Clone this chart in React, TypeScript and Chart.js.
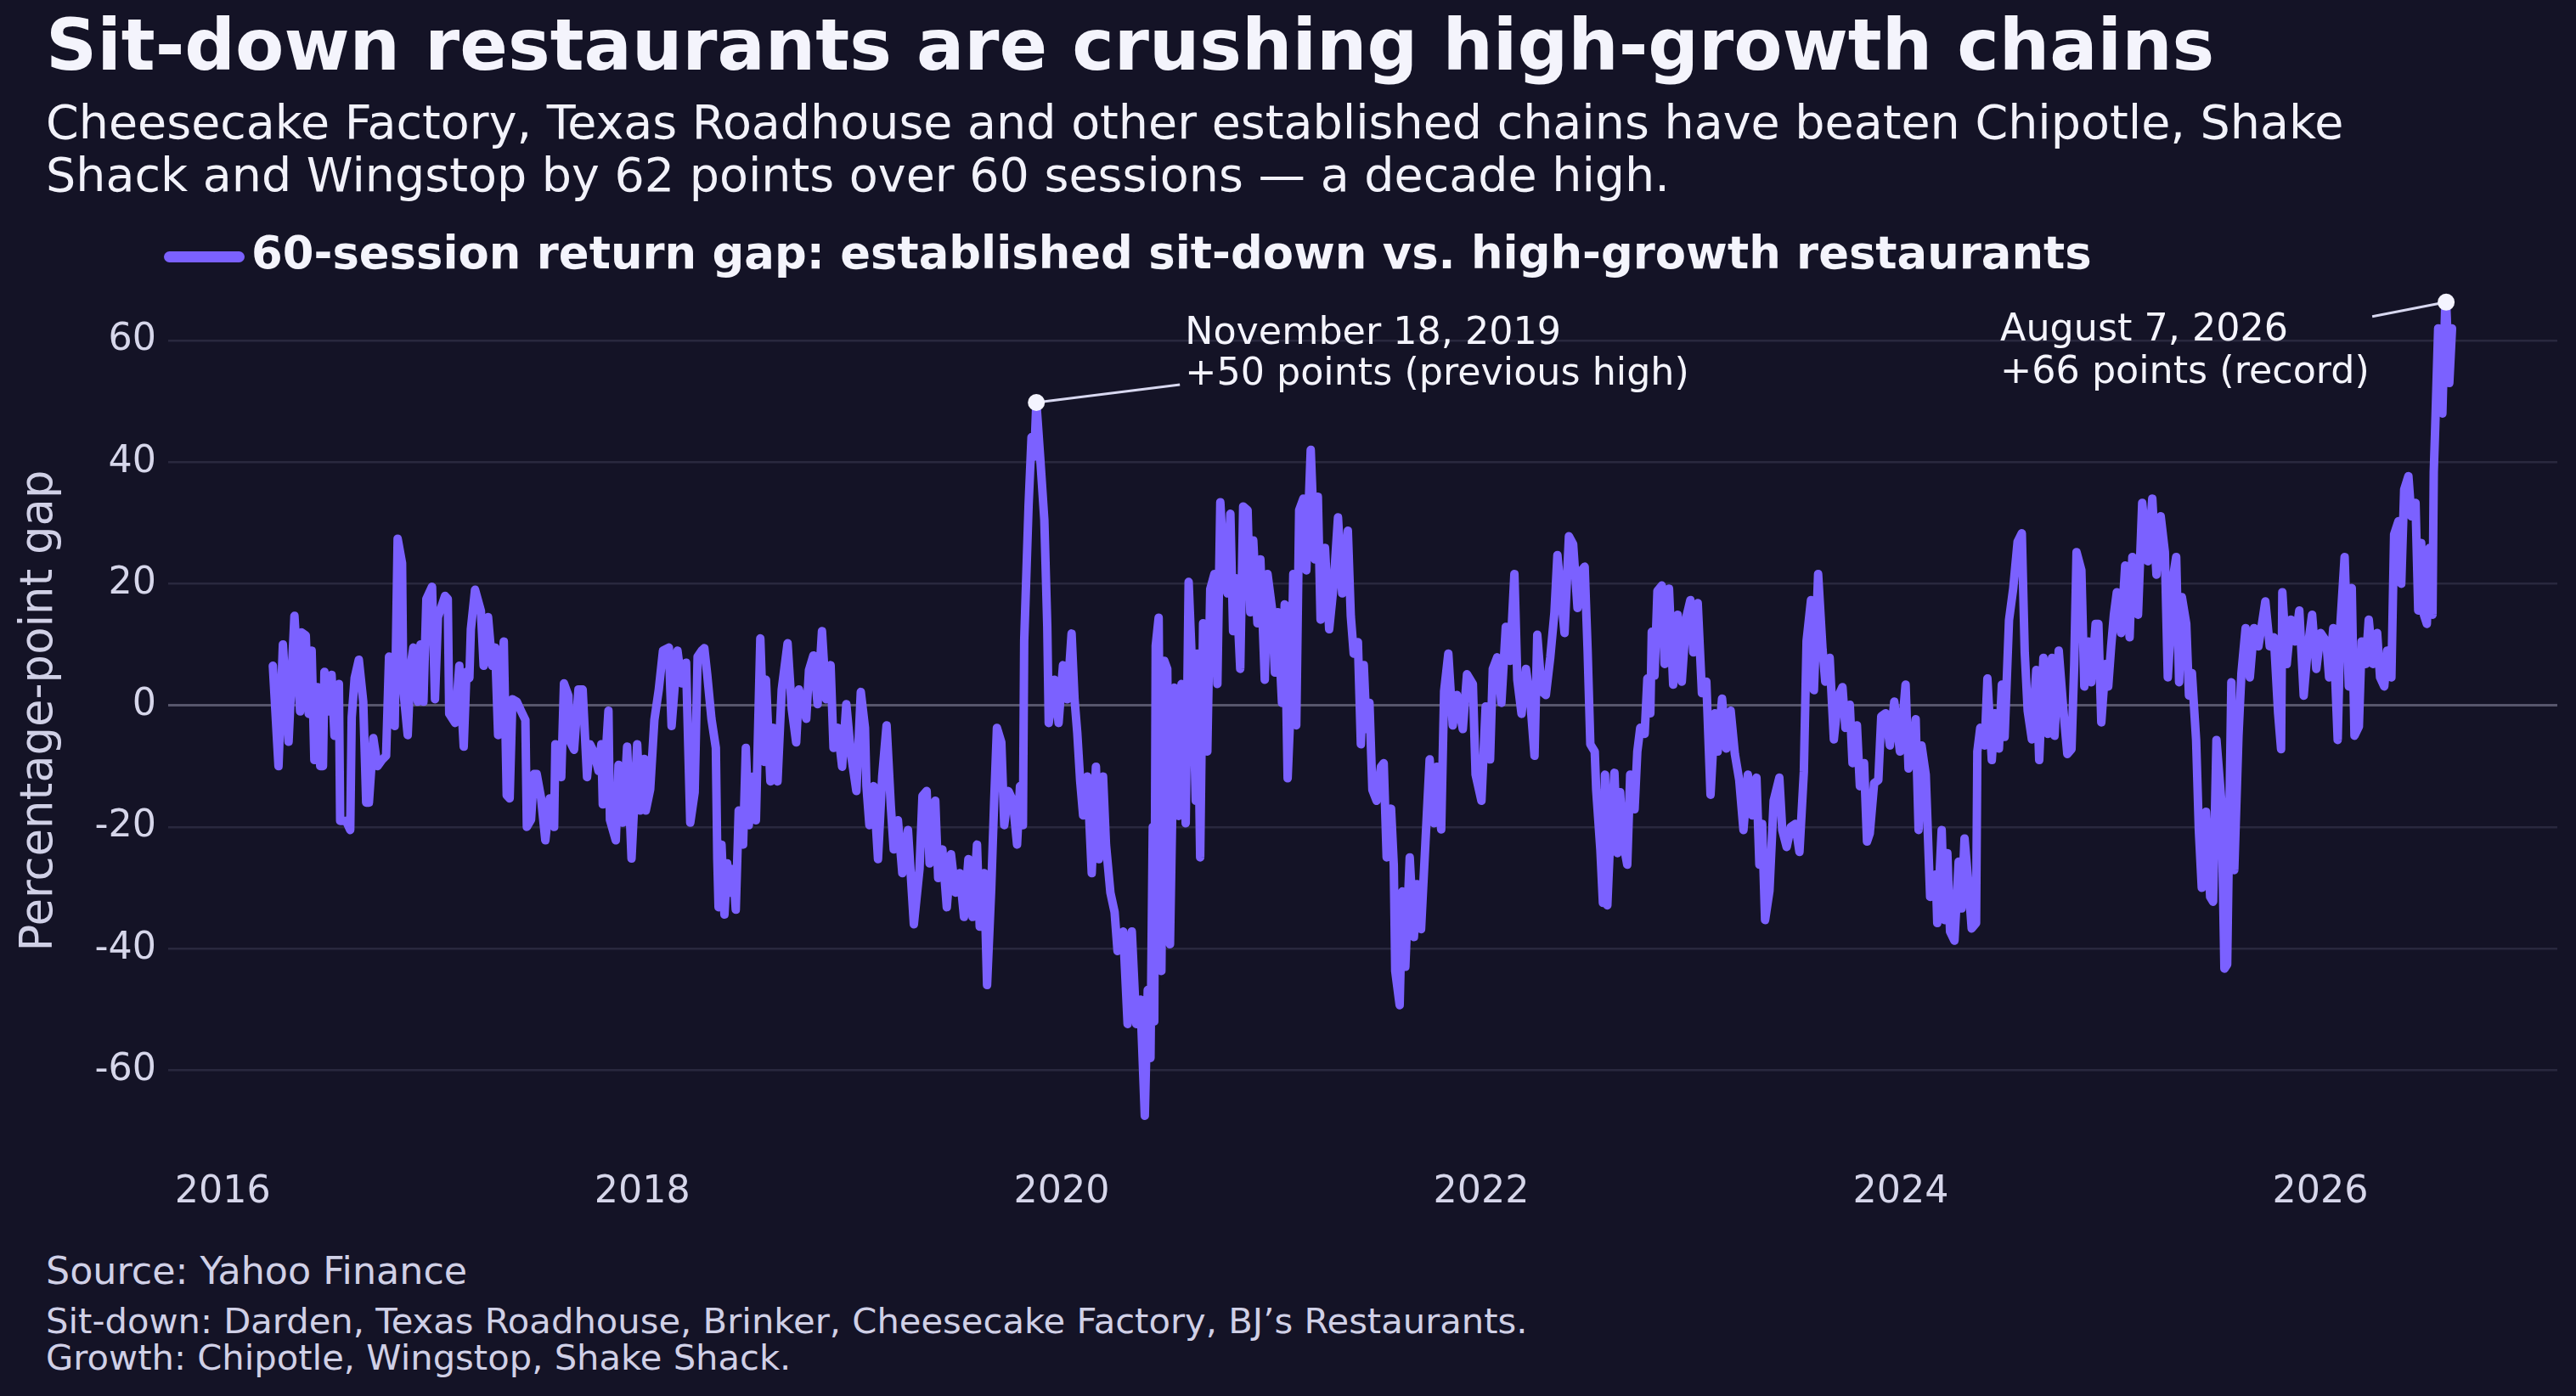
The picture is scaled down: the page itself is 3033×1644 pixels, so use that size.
import React, { useEffect, useRef } from "react";
import { Chart, registerables } from "chart.js";

Chart.register(...registerables);

// ---------- DATA ----------
// 60-session return gap (percentage points), decimal-year positions
const years2016 = [
  2016.239, 2016.266, 2016.287, 2016.314, 2016.342, 2016.369, 2016.376, 2016.396, 2016.41, 2016.424,
  2016.437, 2016.451, 2016.465, 2016.478, 2016.485, 2016.506, 2016.519, 2016.533, 2016.554, 2016.56,
  2016.588, 2016.608, 2016.615, 2016.629, 2016.649, 2016.67, 2016.684, 2016.697, 2016.718, 2016.738,
  2016.759, 2016.779, 2016.793, 2016.82, 2016.834, 2016.855, 2016.861, 2016.882, 2016.896, 2016.909,
  2016.93, 2016.943, 2016.957, 2016.971, 2016.998, 2017.012, 2017.026, 2017.06, 2017.073, 2017.08,
  2017.108, 2017.128, 2017.149, 2017.162, 2017.176, 2017.183, 2017.203, 2017.231, 2017.244, 2017.265,
  2017.285, 2017.299, 2017.313, 2017.34, 2017.354, 2017.368, 2017.381, 2017.402, 2017.422, 2017.443,
  2017.45, 2017.47, 2017.484, 2017.497, 2017.518, 2017.538, 2017.559, 2017.58, 2017.586, 2017.614,
  2017.627, 2017.648, 2017.655, 2017.675, 2017.696, 2017.716, 2017.737, 2017.751, 2017.771, 2017.792,
  2017.805, 2017.812, 2017.839, 2017.846, 2017.874, 2017.887, 2017.908, 2017.928, 2017.949, 2017.976,
  2017.99, 2018.01, 2018.017, 2018.038, 2018.058, 2018.079, 2018.099, 2018.127, 2018.14, 2018.168,
  2018.188, 2018.209, 2018.229, 2018.25, 2018.264, 2018.284,
];
const gap2016 = [
  6.5, -10, 10, -6, 14.7, -1, 12, 11.5, -1.4, 9,
  -9, 3, -10, -10, 5.5, -1, 5, -5, 3.5, -19,
  -19, -20.5, -2, 4.5, 7.5, 0.6, -16, -16, -5.4, -10,
  -9, -8.3, 8, -3.4, 27.4, 23.4, 2.6, -4.9, 6.5, 9.5,
  0.6, 10, 0.6, 17.5, 19.5, 1, 14.5, 18, 17.5, -1.4,
  -2.9, 6.5, -6.8, 5.5, 4.5, 12.5, 19, 15.5, 6.5, 14.5,
  6.5, 9.5, -4.9, 10.5, -14.8, -15.3, 1, 0.6, -0.9, -2.4,
  -20, -18.8, -11.3, -11.3, -15.3, -22.2, -15.3, -20, -6.4, -11.8,
  3.6, 1.6, -5.9, -7.3, 2.6, 2.6, -11.8, -6.4, -7.8, -10.8,
  -6.4, -16.3, -0.9, -18.8, -22.2, -9.8, -19.3, -6.8, -25.2, -6.4,
  -17.3, -8.8, -17.3, -13.8, -2.4, 2.6, 9, 9.5, -3.4, 9,
  3.6, 7, -19.3, -14.3, 8, 9,
];

const years2018 = [
  2018.296, 2018.31, 2018.33, 2018.351, 2018.358, 2018.364, 2018.378, 2018.392, 2018.405, 2018.419,
  2018.433, 2018.446, 2018.46, 2018.481, 2018.494, 2018.508, 2018.529, 2018.542, 2018.563, 2018.583,
  2018.59, 2018.611, 2018.624, 2018.645, 2018.665, 2018.693, 2018.713, 2018.734, 2018.747, 2018.782,
  2018.795, 2018.816, 2018.836, 2018.857, 2018.877, 2018.898, 2018.912, 2018.932, 2018.953, 2018.973,
  2018.994, 2019.021, 2019.042, 2019.062, 2019.069, 2019.083, 2019.103, 2019.124, 2019.144, 2019.165,
  2019.185, 2019.199, 2019.219, 2019.24, 2019.267, 2019.295, 2019.322, 2019.336, 2019.356, 2019.37,
  2019.397, 2019.411, 2019.431, 2019.452, 2019.472, 2019.493, 2019.514, 2019.534, 2019.555, 2019.575,
  2019.596, 2019.609, 2019.63, 2019.644, 2019.664, 2019.678, 2019.691, 2019.712, 2019.726, 2019.746,
  2019.767, 2019.787, 2019.801, 2019.815, 2019.821, 2019.842, 2019.856, 2019.869, 2019.879, 2019.897,
  2019.917, 2019.931, 2019.938, 2019.965, 2019.985, 2020.006, 2020.026, 2020.047, 2020.061, 2020.074,
  2020.088, 2020.102, 2020.122, 2020.143, 2020.163, 2020.177, 2020.197, 2020.211, 2020.232, 2020.252,
  2020.266, 2020.293, 2020.314, 2020.334, 2020.355, 2020.375, 2020.396, 2020.41, 2020.423, 2020.434,
];
const gap2018 = [
  9.4, 5, -2.2, -7, -25.3, -33.2, -22.9, -34.4, -26, -30.8,
  -26.9, -33.6, -17.3, -22.9, -7, -19.7, -11.7, -18.9, 11, -9.3,
  4.2, -12.5, -3.7, -12.5, 2.6, 10.2, -0.6, -6.1, 2.6, -2.2,
  5.8, 8.2, 0.2, 12.2, 1, 6.6, -7, -3.7, -10.1, 0.2,
  -7.7, -14.1, 2.2, -3.7, -13.3, -19.7, -13.3, -25.3, -11.7, -3.3,
  -16.5, -23.7, -18.9, -27.6, -20.5, -36, -26.9, -14.9, -14.1, -26,
  -15.7, -28.4, -23.7, -33.2, -24.5, -30.8, -27.6, -34.8, -25.3, -34.8,
  -22.9, -36.4, -27.6, -46, -30, -15.7, -3.7, -6.1, -19.7, -14.1,
  -15.7, -22.9, -13.3, -19.7, 10.6, 32.9, 44.1, 40.9, 49.8, 40.9,
  30.5, 13, -2.9, 4.2, -2.9, 6.6, 1, 11.8, 1, -4.5,
  -12.5, -18.1, -11.7, -27.6, -10.1, -25.3, -11.7, -22.9, -30.8, -34,
  -40.4, -37.2, -52.4, -37.2, -52.4, -48.4, -67.5, -46.8, -58, -20,
];

const years2020 = [
  2020.441, 2020.448, 2020.462, 2020.475, 2020.489, 2020.503, 2020.516, 2020.537, 2020.557, 2020.571,
  2020.591, 2020.605, 2020.626, 2020.639, 2020.646, 2020.66, 2020.674, 2020.694, 2020.708, 2020.728,
  2020.742, 2020.756, 2020.776, 2020.79, 2020.804, 2020.817, 2020.831, 2020.851, 2020.865, 2020.886,
  2020.899, 2020.913, 2020.933, 2020.947, 2020.968, 2020.981, 2021.002, 2021.016, 2021.029, 2021.05,
  2021.063, 2021.077, 2021.091, 2021.104, 2021.118, 2021.132, 2021.152, 2021.166, 2021.187, 2021.207,
  2021.221, 2021.234, 2021.255, 2021.275, 2021.296, 2021.317, 2021.337, 2021.364, 2021.378, 2021.392,
  2021.412, 2021.426, 2021.44, 2021.453, 2021.467, 2021.481, 2021.501, 2021.522, 2021.535, 2021.549,
  2021.57, 2021.583, 2021.59, 2021.611, 2021.624, 2021.638, 2021.659, 2021.679, 2021.693, 2021.713,
  2021.734, 2021.754, 2021.775, 2021.788, 2021.809, 2021.823, 2021.843, 2021.864, 2021.884, 2021.912,
  2021.932, 2021.96, 2021.973, 2022.001, 2022.021, 2022.042, 2022.055, 2022.076, 2022.096, 2022.117,
  2022.137, 2022.158, 2022.172, 2022.192, 2022.213, 2022.233, 2022.254, 2022.267, 2022.288, 2022.308,
  2022.329, 2022.349, 2022.363, 2022.397, 2022.418, 2022.438, 2022.459, 2022.479, 2022.493, 2022.507,
  2022.52, 2022.541, 2022.548, 2022.568, 2022.58, 2022.59,
];
const gap2020 = [
  -52, 9.8, 14.4, -43.7, 7.3, 6, -39.3, 2.9, -18.2, 3.5,
  -19.4, 20.3, 2.3, -15.7, 8.5, -25, 13.5, -7.6, 19.1, 21.6,
  3.5, 33.4, 20.9, 18.4, 31.5, 12.2, 20.9, 6, 32.7, 32.1,
  15.3, 27.1, 13.5, 24, 4.2, 21.6, 16, 5.4, 15.3, 0.4,
  16.6, -12, -0.2, 21.6, -3.3, 32.1, 34, 22.2, 42, 24,
  34.3, 14.1, 25.9, 12.5, 19.7, 30.9, 18.4, 28.7, 14.7, 8.5,
  10.4, -6.4, 6.6, -3.9, 0.4, -13.9, -15.7, -10.1, -9.5, -25,
  -17, -26.3, -43.7, -49.3, -30.6, -43, -25, -38.1, -29.4, -36.8,
  -22.5, -8.9, -19.4, -10.1, -20.4, 2.3, 8.5, -3.3, 1.7, -3.9,
  5.1, 3.5, -11.4, -15.7, -0.2, -8.9, 6, 7.9, 0.4, 12.9,
  7.3, 21.6, 4.2, -1.4, 6, 1.1, -8.3, 11.6, 2.3, 1.7,
  7.9, 15.3, 24.7, 11.9, 27.8, 26.5, 16, 22.2, 22.8, 9.1,
  -6.4, -7.6, -13.9, -23.8, -32.5, -11.4,
];

const years2022 = [
  2022.601, 2022.614, 2022.635, 2022.649, 2022.662, 2022.676, 2022.696, 2022.71, 2022.731, 2022.744,
  2022.758, 2022.779, 2022.792, 2022.806, 2022.813, 2022.826, 2022.84, 2022.861, 2022.874, 2022.895,
  2022.915, 2022.936, 2022.956, 2022.977, 2022.997, 2023.011, 2023.032, 2023.052, 2023.073, 2023.093,
  2023.114, 2023.127, 2023.148, 2023.168, 2023.189, 2023.209, 2023.23, 2023.25, 2023.271, 2023.292,
  2023.312, 2023.326, 2023.339, 2023.353, 2023.374, 2023.394, 2023.421, 2023.435, 2023.456, 2023.476,
  2023.497, 2023.517, 2023.538, 2023.551, 2023.572, 2023.586, 2023.606, 2023.627, 2023.64, 2023.661,
  2023.681, 2023.702, 2023.722, 2023.736, 2023.757, 2023.77, 2023.791, 2023.805, 2023.825, 2023.839,
  2023.852, 2023.873, 2023.893, 2023.907, 2023.928, 2023.948, 2023.969, 2023.996, 2024.023, 2024.037,
  2024.058, 2024.071, 2024.085, 2024.099, 2024.119, 2024.14, 2024.167, 2024.174, 2024.195, 2024.208,
  2024.222, 2024.235, 2024.256, 2024.276, 2024.29, 2024.304, 2024.324, 2024.338, 2024.359, 2024.365,
  2024.379, 2024.4, 2024.413, 2024.434, 2024.448, 2024.468, 2024.482, 2024.495, 2024.516, 2024.536,
  2024.557, 2024.577, 2024.591, 2024.605, 2024.625, 2024.646, 2024.66, 2024.68, 2024.701, 2024.721,
];
const gap2022 = [
  -32.9, -22.4, -11.1, -24.3, -14.3, -22.4, -26.2, -11.4, -17.1, -7.6,
  -3.7, -4.7, 4.4, -1.3, 12.1, 4.9, 18.8, 19.7, 6.8, 19.2,
  3.4, 14.9, 3.9, 14.4, 17.3, 8.7, 16.8, 2, 3.9, -14.7,
  -1.3, -7.6, 1.1, -7.1, -0.9, -8, -12.3, -20.5, -11.4, -18.1,
  -11.9, -26.2, -19.5, -35.3, -30.5, -15.7, -11.9, -20.5, -23.3, -20,
  -19.5, -24.1, -10.9, 10.6, 17.3, 2.5, 21.6, 9.2, 3.9, 7.8,
  -5.6, 1.5, 3, -3.7, 0.1, -9.5, -3.3, -13.3, -9.5, -22.4,
  -21.1, -12.8, -12.3, -1.8, -1.3, -6.6, 0.6, -7.6, 3.4, -10.4,
  -7.6, -2.3, -20.5, -6.6, -11.4, -31.5, -27.8, -35.8, -20.5, -35.3,
  -24.3, -37.2, -38.7, -25.7, -33.4, -21.9, -30, -36.7, -35.8, -7.6,
  -3.7, -6.6, 4.4, -9, -1.3, -7.1, 3.4, -5.2, 14, 19.2,
  26.9, 28.3, 8.7, -0.9, -5.6, 5.8, -9, 7.8, -4.7, 7.8,
];

const years2024 = [
  2024.733, 2024.753, 2024.773, 2024.794, 2024.814, 2024.827, 2024.838, 2024.861, 2024.875, 2024.895,
  2024.908, 2024.929, 2024.942, 2024.956, 2024.976, 2024.989, 2025.003, 2025.016, 2025.03, 2025.05,
  2025.07, 2025.091, 2025.104, 2025.131, 2025.151, 2025.178, 2025.199, 2025.219, 2025.239, 2025.259,
  2025.273, 2025.286, 2025.3, 2025.313, 2025.327, 2025.34, 2025.361, 2025.374, 2025.388, 2025.408,
  2025.421, 2025.435, 2025.455, 2025.475, 2025.489, 2025.505, 2025.529, 2025.543, 2025.556, 2025.576,
  2025.59, 2025.61, 2025.624, 2025.644, 2025.664, 2025.684, 2025.705, 2025.725, 2025.738, 2025.759,
  2025.779, 2025.799, 2025.813, 2025.819, 2025.84, 2025.86, 2025.88, 2025.9, 2025.921, 2025.941,
  2025.961, 2025.981, 2026.002, 2026.029, 2026.042, 2026.062, 2026.083, 2026.096, 2026.116, 2026.136,
  2026.15, 2026.163, 2026.184, 2026.197, 2026.217, 2026.231, 2026.251, 2026.271, 2026.285, 2026.305,
  2026.319, 2026.339, 2026.352, 2026.373, 2026.386, 2026.4, 2026.42, 2026.434, 2026.454, 2026.467,
  2026.481, 2026.494, 2026.508, 2026.521, 2026.535, 2026.541, 2026.548, 2026.562, 2026.582, 2026.595,
  2026.6, 2026.615, 2026.628,
];
const gap2024 = [
  -5, 9, 0.1, -8, -7.2, 6.8, 25.2, 22.2, 3.1, 10.5,
  3.8, 13.4, 13.4, -2.8, 6.8, 3.1, 9.7, 14.9, 18.6, 11.9,
  23, 11.2, 24.4, 14.9, 33.3, 23.7, 34, 21.5, 31.1, 25.2,
  4.6, 11.9, 21.5, 24.4, 3.8, 17.8, 13.4, 1.6, 5.3, -5.7,
  -20.5, -30, -17.5, -31.5, -32.3, -5.7, -16.1, -43.3, -42.6, 3.8,
  -27.1, -5, 5.3, 12.7, 4.6, 12.7, 9.7, 14.1, 17.1, 9.7,
  11.2, -1.3, -7.2, 18.6, 6.8, 14.1, 10.5, 15.6, 1.6, 9.7,
  14.9, 6, 11.9, 10.5, 4.6, 12.7, -5.7, 13.4, 24.4, 3.1,
  19.3, -5, -3.5, 10.5, 6.8, 14.1, 6.8, 11.9, 4.6, 3.1,
  9, 4.6, 28.1, 30.3, 20, 35.5, 37.7, 31.1, 33.3, 15.6,
  26.7, 14.9, 13.4, 25.9, 14.9, 38.4, 45.8, 62, 48, 65,
  66.3, 53, 62,
];

const seriesYears = [...years2016, ...years2018, ...years2020, ...years2022, ...years2024];
const seriesGap = [...gap2016, ...gap2018, ...gap2020, ...gap2022, ...gap2024];

const xTicks = [2016, 2018, 2020, 2022, 2024, 2026];
const yTicks = [-60, -40, -20, 0, 20, 40, 60];

const highlightYears = [2019.879, 2026.6];
const highlightGap = [49.8, 66.3];
const highlightLines = [
  ["November 18, 2019", "+50 points (previous high)"],
  ["August 7, 2026", "+66 points (record)"],
];

const seriesLabel = "60-session return gap: established sit-down vs. high-growth restaurants";
const titleText = "Sit-down restaurants are crushing high-growth chains";
const subtitleLines = [
  "Cheesecake Factory, Texas Roadhouse and other established chains have beaten Chipotle, Shake",
  "Shack and Wingstop by 62 points over 60 sessions \u2014 a decade high.",
];
const sourceText = "Source: Yahoo Finance";
const noteLines = [
  "Sit-down: Darden, Texas Roadhouse, Brinker, Cheesecake Factory, BJ\u2019s Restaurants.",
  "Growth: Chipotle, Wingstop, Shake Shack.",
];

// ---------- STYLE ----------
const FONT = "'DejaVu Sans', 'Liberation Sans', sans-serif";
const BG = "#141326";
const LINE = "#7b61ff";
const TEXT = "#f4f4fc";
const TICK = "#d6d6ea";
const MUTED = "#d0d0e6";

// label placement relative to each highlighted point (pixels)
const noteLayout = [
  { tx: 175, ty1: -69, ty2: -21, lx: 169, ly: -21 },
  { tx: -525, ty1: 45, ty2: 95, lx: -87, ly: 17 },
];

const notesPlugin = {
  id: "highlightNotes",
  beforeDatasetsDraw(chart: any) {
    const meta = chart.getDatasetMeta(1);
    const ctx = chart.ctx;
    ctx.save();
    ctx.strokeStyle = "#d8d8f0";
    ctx.lineWidth = 3;
    meta.data.forEach((pt: any, i: number) => {
      const o = noteLayout[i];
      ctx.beginPath();
      ctx.moveTo(pt.x, pt.y);
      ctx.lineTo(pt.x + o.lx, pt.y + o.ly);
      ctx.stroke();
    });
    ctx.restore();
  },
  afterDatasetsDraw(chart: any) {
    const meta = chart.getDatasetMeta(1);
    const ctx = chart.ctx;
    ctx.save();
    ctx.fillStyle = TEXT;
    ctx.font = `44.4px ${FONT}`;
    ctx.textBaseline = "alphabetic";
    ctx.textAlign = "left";
    meta.data.forEach((pt: any, i: number) => {
      const o = noteLayout[i];
      const lines = highlightLines[i];
      ctx.fillText(lines[0], pt.x + o.tx, pt.y + o.ty1);
      ctx.fillText(lines[1], pt.x + o.tx, pt.y + o.ty2);
    });
    ctx.restore();
  },
};

export default function App() {
  const ref = useRef<HTMLCanvasElement>(null);

  useEffect(() => {
    document.body.style.background = BG;
    const canvas = ref.current;
    if (!canvas) return;
    const chart = new Chart(canvas, {
      type: "line",
      data: {
        datasets: [
          {
            label: seriesLabel,
            data: seriesYears.map((x, i) => ({ x, y: seriesGap[i] })),
            borderColor: LINE,
            backgroundColor: LINE,
            borderWidth: 10,
            borderJoinStyle: "round",
            borderCapStyle: "round",
            pointRadius: 0,
            tension: 0,
            fill: false,
            order: 2,
          },
          {
            label: "highlights",
            data: highlightYears.map((x, i) => ({ x, y: highlightGap[i] })),
            showLine: false,
            pointRadius: 10,
            pointHoverRadius: 10,
            pointBackgroundColor: "#f4f4ff",
            pointBorderWidth: 0,
            borderColor: "#f4f4ff",
            order: 1,
            clip: false as any,
          },
        ],
      },
      options: {
        animation: false,
        responsive: false,
        devicePixelRatio: 1,
        events: [],
        layout: { padding: { top: 9, right: 22, left: 0, bottom: 0 } },
        plugins: {
          legend: { display: false },
          tooltip: { enabled: false },
          title: { display: false },
        },
        scales: {
          x: {
            type: "linear",
            min: 2015.74,
            max: 2027.13,
            afterBuildTicks: (s: any) => {
              s.ticks = xTicks.map((v) => ({ value: v }));
            },
            afterFit: (s: any) => {
              s.height = 68;
              s.paddingLeft = 0;
              s.paddingRight = 0;
            },
            ticks: {
              callback: (v: any) => String(v),
              color: TICK,
              font: { family: FONT, size: 44.4 },
              padding: 16,
              maxRotation: 0,
              autoSkip: false,
            },
            grid: { display: false, drawTicks: false },
            border: { display: false },
          },
          y: {
            type: "linear",
            min: -74.2,
            max: 72.7,
            afterBuildTicks: (s: any) => {
              s.ticks = yTicks.map((v) => ({ value: v }));
            },
            afterFit: (s: any) => {
              s.width = 198;
              s.paddingTop = 0;
              s.paddingBottom = 0;
            },
            ticks: {
              callback: (v: any) => String(v),
              color: TICK,
              font: { family: FONT, size: 44.4 },
              padding: 14,
              autoSkip: false,
            },
            grid: {
              drawTicks: false,
              color: (c: any) => (c.tick && c.tick.value === 0 ? "#57566c" : "#29283e"),
              lineWidth: (c: any) => (c.tick && c.tick.value === 0 ? 3 : 2.5),
            },
            border: { display: false },
          },
        },
      },
      plugins: [notesPlugin],
    } as any);
    return () => chart.destroy();
  }, []);

  const abs = (extra: React.CSSProperties): React.CSSProperties => ({
    position: "absolute",
    whiteSpace: "nowrap",
    margin: 0,
    ...extra,
  });

  return (
    <div
      style={{
        position: "absolute",
        left: 0,
        top: 0,
        width: 3033,
        height: 1644,
        background: BG,
        overflow: "hidden",
        fontFamily: FONT,
      }}
    >
      <div style={abs({ left: 54, top: 12.4, fontSize: 83.5, lineHeight: "83.5px", fontWeight: "bold", color: TEXT })}>
        {titleText}
      </div>
      <div style={abs({ left: 54, top: 112.8, fontSize: 55.5, lineHeight: "62px", color: "#f2f2fa" })}>
        {subtitleLines[0]}
        <br />
        {subtitleLines[1]}
      </div>
      <div
        style={abs({
          left: 193,
          top: 295.5,
          width: 95,
          height: 13,
          borderRadius: 6.5,
          background: LINE,
        })}
      />
      <div style={abs({ left: 296, top: 272.3, fontSize: 52.8, lineHeight: "52.8px", fontWeight: "bold", color: TEXT })}>
        {seriesLabel}
      </div>
      <div
        style={abs({
          left: 43.4,
          top: 837,
          fontSize: 52.8,
          lineHeight: "52.8px",
          color: MUTED,
          transform: "translate(-50%, -50%) rotate(-90deg)",
        })}
      >
        Percentage-point gap
      </div>
      <canvas
        ref={ref}
        width={3033}
        height={1130}
        style={{ position: "absolute", left: 0, top: 300, width: 3033, height: 1130 }}
      />
      <div style={abs({ left: 54, top: 1475.4, fontSize: 44.4, lineHeight: "44.4px", color: MUTED })}>
        {sourceText}
      </div>
      <div style={abs({ left: 54, top: 1534, fontSize: 41.7, lineHeight: "43px", color: MUTED })}>
        {noteLines[0]}
        <br />
        {noteLines[1]}
      </div>
    </div>
  );
}
